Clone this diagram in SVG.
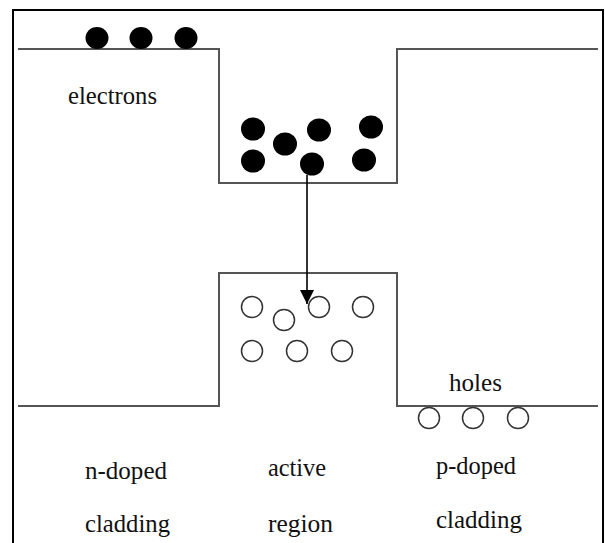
<svg xmlns="http://www.w3.org/2000/svg" width="605" height="543" viewBox="0 0 605 543">
<defs>
<style>
.frame{fill:none;stroke:#000;stroke-width:2}
.band{fill:none;stroke:#555;stroke-width:2}
.e{fill:#000}
.h{fill:#fff;stroke:#333;stroke-width:1.5}
.t{font-family:"Liberation Serif","Times New Roman",serif;font-size:26px;fill:#111}
.conn{stroke:#000;stroke-width:1.6;fill:none}
</style>
<marker id="arr" markerWidth="14" markerHeight="14" refX="14" refY="7" orient="auto" markerUnits="userSpaceOnUse">
<path d="M0,0 L14,7 L0,14 z" fill="#000"/>
</marker>
</defs>
<rect width="605" height="543" fill="#fff"/>
<path class="frame" d="M13,545 V10 H603 V545"/>
<g id="conduction-band">
<path class="band" d="M18,49 H219 V183 H397 V49 H598"/>
</g>
<g id="valence-band">
<path class="band" d="M18,406 H219 V273 H397 V406 H598"/>
</g>
<g id="electrons">
<ellipse class="e" cx="97" cy="38" rx="11.5" ry="11"/>
<ellipse class="e" cx="141" cy="38" rx="11.5" ry="11"/>
<ellipse class="e" cx="186" cy="38" rx="11.5" ry="11"/>
<ellipse class="e" cx="253" cy="129" rx="12" ry="11.5"/>
<ellipse class="e" cx="253" cy="161" rx="12" ry="11.5"/>
<ellipse class="e" cx="285" cy="144" rx="12" ry="11.5"/>
<ellipse class="e" cx="319" cy="130" rx="12" ry="11.5"/>
<ellipse class="e" cx="312" cy="164" rx="12" ry="11.5"/>
<ellipse class="e" cx="371" cy="127" rx="12" ry="11.5"/>
<ellipse class="e" cx="364" cy="160" rx="12" ry="11.5"/>
</g>
<g id="holes">
<circle class="h" cx="252" cy="307" r="10.5"/>
<circle class="h" cx="284" cy="320" r="10.5"/>
<circle class="h" cx="319" cy="307" r="10.5"/>
<circle class="h" cx="363" cy="307" r="10.5"/>
<circle class="h" cx="252" cy="351" r="10.5"/>
<circle class="h" cx="297" cy="351" r="10.5"/>
<circle class="h" cx="342" cy="351" r="10.5"/>
<circle class="h" cx="429" cy="418" r="10.5"/>
<circle class="h" cx="473" cy="418" r="10.5"/>
<circle class="h" cx="518" cy="418" r="10.5"/>
</g>
<g id="connectors">
<line class="conn" x1="307" y1="175" x2="307" y2="304" marker-end="url(#arr)"/>
</g>
<g id="labels">
<text class="t" x="68" y="104" textLength="89" lengthAdjust="spacingAndGlyphs">electrons</text>
<text class="t" x="449" y="391" textLength="53" lengthAdjust="spacingAndGlyphs">holes</text>
<text class="t" x="85" y="479" textLength="82" lengthAdjust="spacingAndGlyphs">n-doped</text>
<text class="t" x="85" y="532" textLength="85" lengthAdjust="spacingAndGlyphs">cladding</text>
<text class="t" x="268" y="476" textLength="58" lengthAdjust="spacingAndGlyphs">active</text>
<text class="t" x="268" y="532" textLength="65" lengthAdjust="spacingAndGlyphs">region</text>
<text class="t" x="436" y="474" textLength="80" lengthAdjust="spacingAndGlyphs">p-doped</text>
<text class="t" x="436" y="528" textLength="86" lengthAdjust="spacingAndGlyphs">cladding</text>
</g>
</svg>
